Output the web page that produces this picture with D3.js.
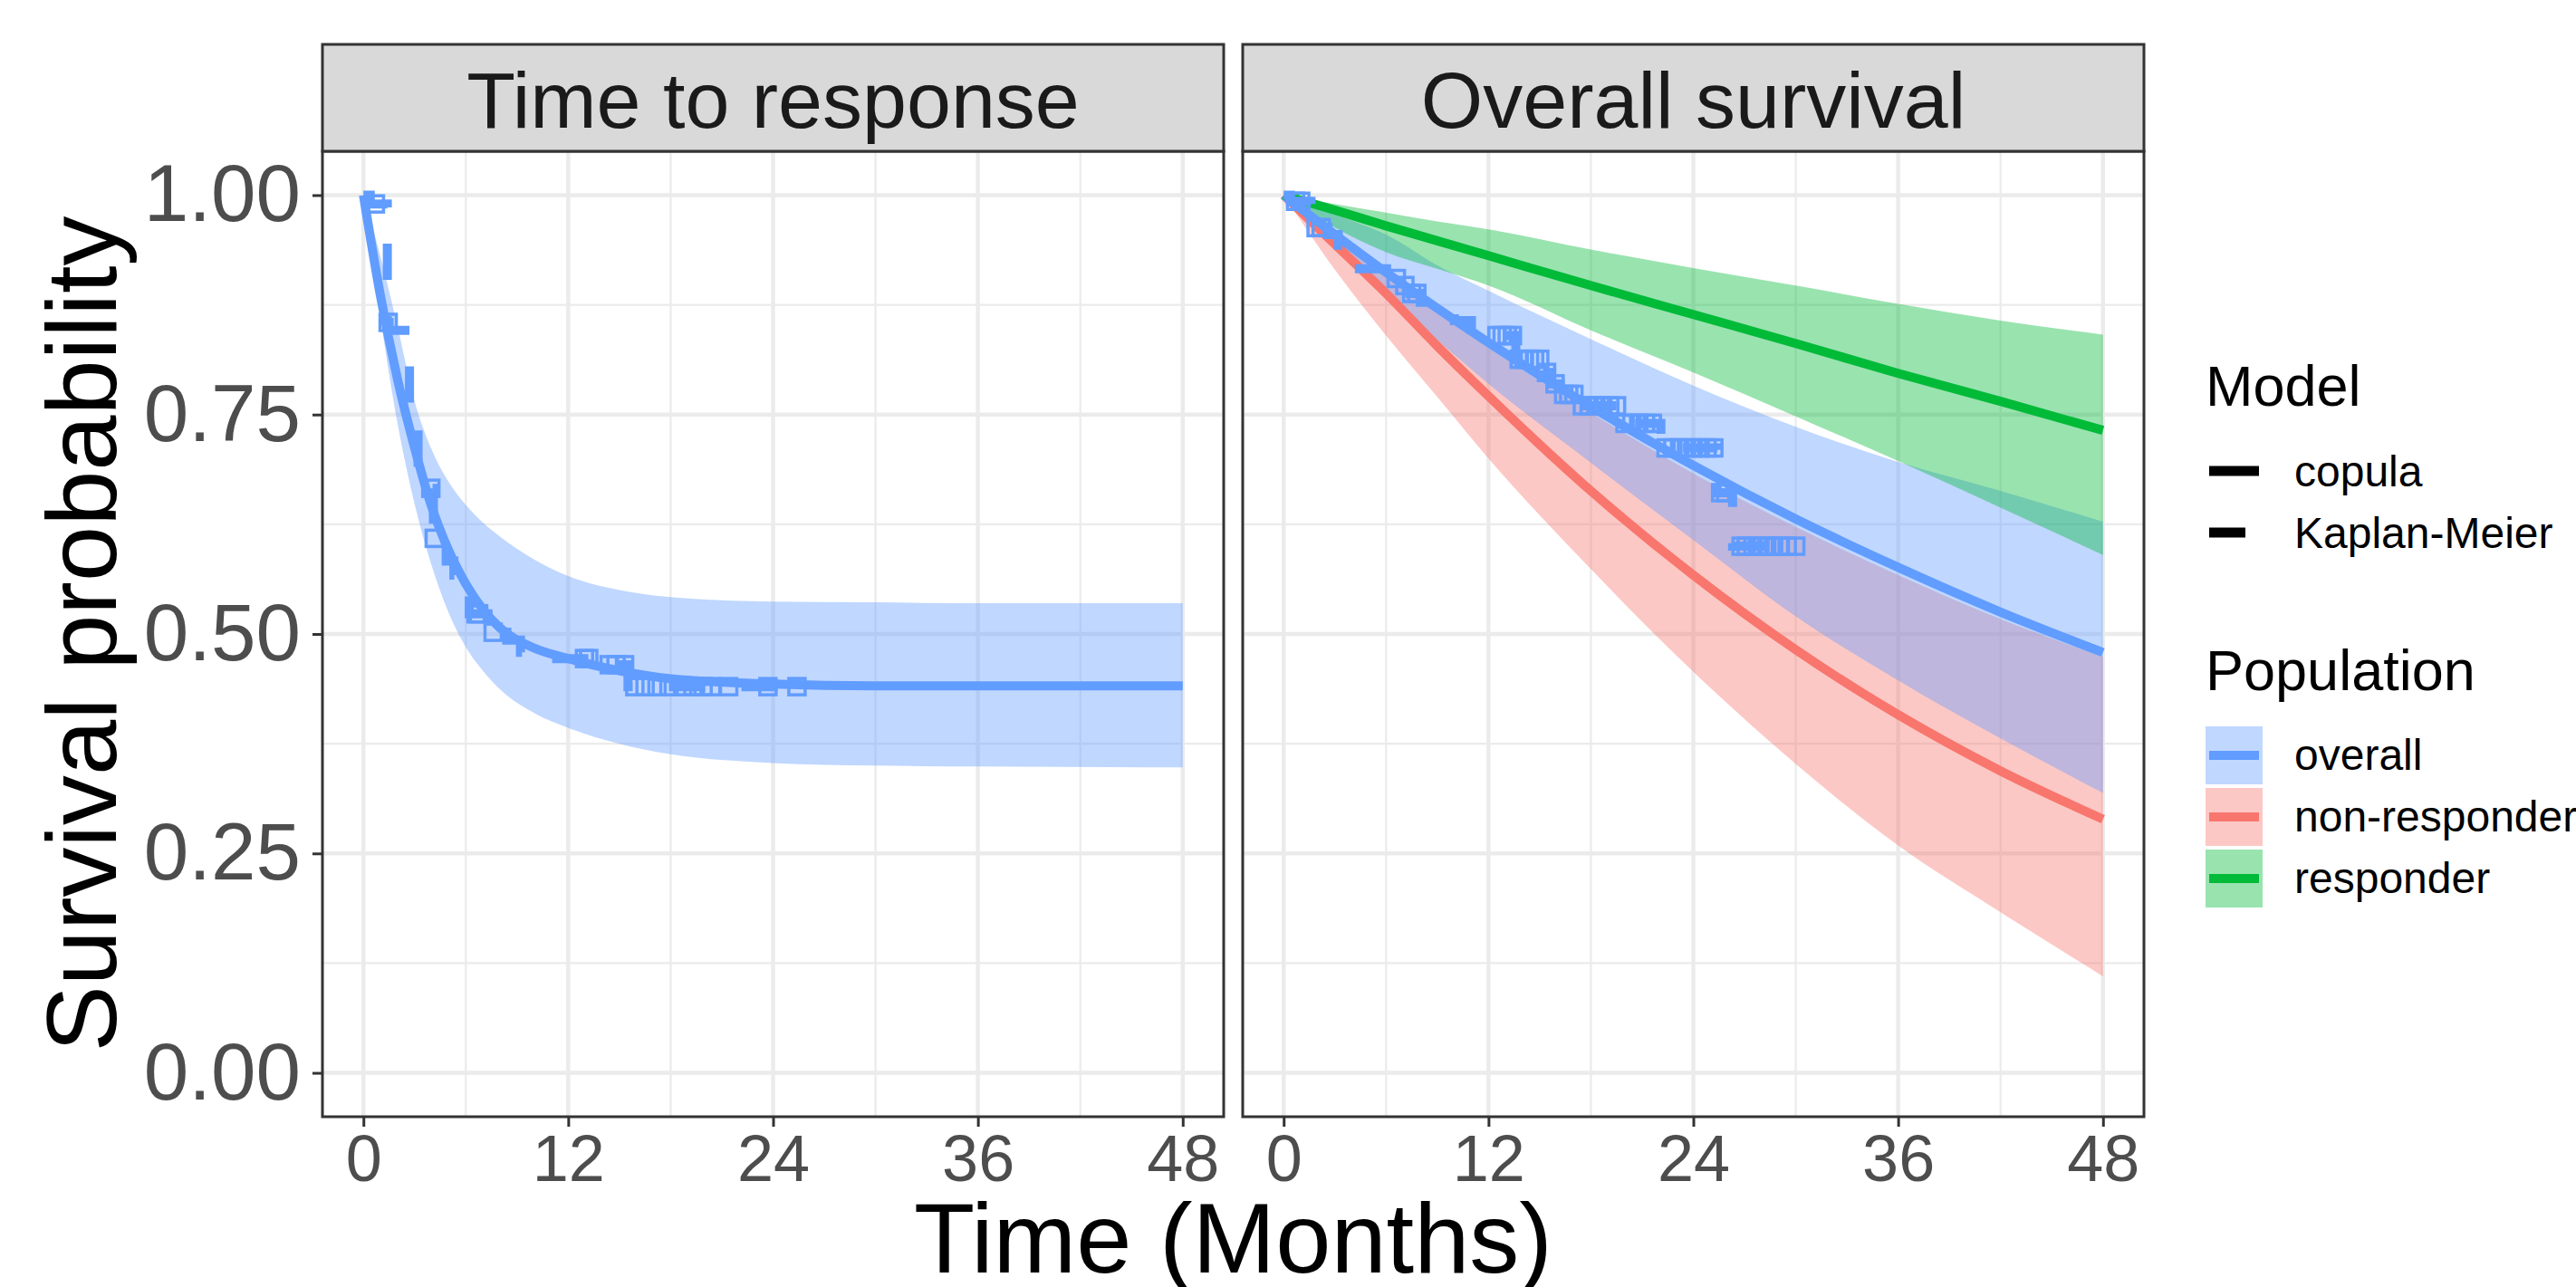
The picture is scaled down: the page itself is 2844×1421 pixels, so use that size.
<!DOCTYPE html>
<html>
<head>
<meta charset="utf-8">
<script src="https://cdn.jsdelivr.net/npm/d3@7"></script>
<style>
  html, body { margin: 0; padding: 0; background: #ffffff; }
  svg { display: block; }
  text { font-family: "Liberation Sans", Arial, Helvetica, sans-serif; }
</style>
</head>
<body>
<svg id="chart" width="2844" height="1421"></svg>
<script>
// ---------------- DATA ----------------
const panelTitles = ["Time to response", "Overall survival"];
const xTicks = [0, 12, 24, 36, 48];
const xMinor = [6, 18, 30, 42];
const yTicks = [0, 0.25, 0.5, 0.75, 1];
const yMinor = [0.125, 0.375, 0.625, 0.875];
const yTickLabels = ["0.00", "0.25", "0.50", "0.75", "1.00"];

const modelLabels = ["copula", "Kaplan-Meier"];
const populationLabels = ["overall", "non-responder", "responder"];
const populationColors = ["#619CFF", "#F8766D", "#00BA38"];

// Time to response: copula fit (overall) with ribbon
const ttrTimes = [0, 1, 2, 3, 4, 5, 6, 7, 8, 10, 12, 15, 18, 24, 30, 36, 48];
const ttrFit   = [1, 0.885, 0.79, 0.712, 0.645, 0.595, 0.557, 0.528, 0.507, 0.484, 0.472, 0.458, 0.449, 0.443, 0.441, 0.441, 0.441];
const ttrUpper = [1, 0.93, 0.85, 0.765, 0.71, 0.673, 0.647, 0.627, 0.611, 0.585, 0.566, 0.55, 0.542, 0.537, 0.536, 0.535, 0.535];
const ttrLower = [1, 0.86, 0.74, 0.648, 0.578, 0.524, 0.485, 0.458, 0.437, 0.41, 0.393, 0.375, 0.363, 0.353, 0.35, 0.349, 0.348];

// Time to response: Kaplan-Meier
const ttrKmTime = [0, 0.4, 1.4, 1.5, 2.7, 3.2, 3.6, 4.1, 4.85, 5.3, 6.2, 7.3, 8.4, 9.2, 11.0, 14.0, 15.5, 25.4];
const ttrKmSurv = [1, 0.99, 0.855, 0.846, 0.745, 0.68, 0.666, 0.609, 0.583, 0.567, 0.523, 0.502, 0.493, 0.479, 0.472, 0.465, 0.44, 0.44];
const ttrCensor = [0.7, 1.45, 3.95, 4.15, 6.6, 6.75, 7.6, 12.95, 13.2, 14.4, 14.8, 15.3, 15.9, 16.5, 17.2, 17.9, 18.7, 19.3, 19.9, 20.4, 21.4, 23.7, 25.4];

// Overall survival: copula fits per population
const osTimes = [0, 3, 6, 9, 12, 18, 24, 30, 36, 42, 48];
const osOverallFit   = [1, 0.955, 0.912, 0.871, 0.832, 0.759, 0.692, 0.631, 0.576, 0.525, 0.479];
const osOverallUpper = [1, 0.978, 0.955, 0.92, 0.891, 0.836, 0.783, 0.736, 0.696, 0.663, 0.628];
const osOverallLower = [1, 0.945, 0.888, 0.835, 0.785, 0.695, 0.607, 0.52, 0.447, 0.381, 0.319];
const osNonRespFit   = [1, 0.944, 0.888, 0.828, 0.771, 0.663, 0.567, 0.482, 0.408, 0.344, 0.289];
const osNonRespUpper = [1, 0.956, 0.908, 0.866, 0.826, 0.752, 0.683, 0.622, 0.567, 0.517, 0.474];
const osNonRespLower = [1, 0.915, 0.84, 0.77, 0.70, 0.574, 0.457, 0.352, 0.259, 0.183, 0.11];
const osRespFit      = [1, 0.983, 0.965, 0.948, 0.931, 0.897, 0.864, 0.831, 0.797, 0.765, 0.732];
const osRespUpper    = [1, 0.99, 0.98, 0.97, 0.961, 0.938, 0.917, 0.897, 0.876, 0.857, 0.841];
const osRespLower    = [1, 0.963, 0.935, 0.916, 0.897, 0.846, 0.798, 0.748, 0.697, 0.644, 0.59];

// Overall survival: Kaplan-Meier (overall population)
const osKmTime = [0, 0.4, 1.6, 2.6, 3.2, 4.1, 6.3, 6.9, 7.4, 8.0, 9.6, 10.0, 11.0, 12.1, 13.6, 15.2, 15.7, 16.2, 17.2, 19.7, 22.1, 25.4, 26.3, 30.0];
const osKmSurv = [1, 0.993, 0.963, 0.955, 0.943, 0.916, 0.905, 0.897, 0.888, 0.878, 0.866, 0.857, 0.847, 0.84, 0.813, 0.798, 0.785, 0.773, 0.76, 0.74, 0.712, 0.661, 0.60, 0.60];
const osCensor = [0.7, 1.0, 1.9, 2.2, 6.6, 7.1, 7.5, 7.8, 12.5, 12.8, 13.1, 13.4, 13.8, 14.1, 14.4, 14.7, 15.0, 15.4, 15.9, 16.4, 16.7, 17.0, 17.5, 17.9, 18.3, 18.7, 19.1, 19.5, 20.0, 20.4, 20.8, 21.2, 21.6, 22.4, 22.8, 23.2, 23.6, 24.0, 24.4, 24.8, 25.2, 25.6, 25.9, 26.8, 27.1, 27.5, 27.9, 28.3, 28.7, 29.1, 29.5, 30.0];

// ---------------- LAYOUT ----------------
const svg = d3.select("#chart");
svg.append("rect").attr("width", 2844).attr("height", 1421).attr("fill", "#ffffff");

const panelTop = 167, panelBottom = 1233, stripTop = 49;
const panels = [{ x0: 356, x1: 1351 }, { x0: 1372, x1: 2367 }];
const FONT = '"Liberation Sans", Arial, Helvetica, sans-serif';

const y = d3.scaleLinear().domain([-0.05, 1.05]).range([panelBottom, panelTop]);

function zip(ts, vs) { return ts.map((t, i) => ({ t, v: vs[i] })); }
function ribbon(ts, lo, hi) { return ts.map((t, i) => ({ t, lo: lo[i], hi: hi[i] })); }
function stepAt(times, surv, t) {
  const i = d3.bisectRight(times, t) - 1;
  return surv[Math.max(0, i)];
}

panels.forEach((p, pi) => {
  const x = d3.scaleLinear().domain([-2.4, 50.4]).range([p.x0, p.x1]);
  const g = svg.append("g");
  const clipId = "clip" + pi;
  svg.append("clipPath").attr("id", clipId).append("rect")
    .attr("x", p.x0).attr("y", panelTop).attr("width", p.x1 - p.x0).attr("height", panelBottom - panelTop);

  // grid
  const grid = g.append("g");
  xMinor.forEach(v => grid.append("line").attr("x1", x(v)).attr("x2", x(v)).attr("y1", panelTop).attr("y2", panelBottom)
    .attr("stroke", "#EBEBEB").attr("stroke-width", 2.2));
  yMinor.forEach(v => grid.append("line").attr("y1", y(v)).attr("y2", y(v)).attr("x1", p.x0).attr("x2", p.x1)
    .attr("stroke", "#EBEBEB").attr("stroke-width", 2.2));
  xTicks.forEach(v => grid.append("line").attr("x1", x(v)).attr("x2", x(v)).attr("y1", panelTop).attr("y2", panelBottom)
    .attr("stroke", "#EBEBEB").attr("stroke-width", 4.4));
  yTicks.forEach(v => grid.append("line").attr("y1", y(v)).attr("y2", y(v)).attr("x1", p.x0).attr("x2", p.x1)
    .attr("stroke", "#EBEBEB").attr("stroke-width", 4.4));

  const plot = g.append("g").attr("clip-path", `url(#${clipId})`);
  const area = d3.area().x(d => x(d.t)).y0(d => y(d.lo)).y1(d => y(d.hi)).curve(d3.curveMonotoneX);
  const line = d3.line().x(d => x(d.t)).y(d => y(d.v)).curve(d3.curveMonotoneX);
  const stepLine = d3.line().x(d => x(d.t)).y(d => y(d.v)).curve(d3.curveStepAfter);

  let censor, kmTimes, kmSurv;
  if (pi === 0) {
    plot.append("path").datum(ribbon(ttrTimes, ttrLower, ttrUpper)).attr("d", area)
      .attr("fill", populationColors[0]).attr("fill-opacity", 0.4);
    plot.append("path").datum(zip(ttrTimes, ttrFit)).attr("d", line)
      .attr("fill", "none").attr("stroke", populationColors[0]).attr("stroke-width", 10);
    kmTimes = ttrKmTime; kmSurv = ttrKmSurv; censor = ttrCensor;
  } else {
    const ribbons = [
      [osNonRespLower, osNonRespUpper, populationColors[1]],
      [osOverallLower, osOverallUpper, populationColors[0]],
      [osRespLower, osRespUpper, populationColors[2]]
    ];
    ribbons.forEach(r => plot.append("path").datum(ribbon(osTimes, r[0], r[1])).attr("d", area)
      .attr("fill", r[2]).attr("fill-opacity", 0.4));
    const fits = [[osNonRespFit, populationColors[1]], [osOverallFit, populationColors[0]], [osRespFit, populationColors[2]]];
    fits.forEach(f => plot.append("path").datum(zip(osTimes, f[0])).attr("d", line)
      .attr("fill", "none").attr("stroke", f[1]).attr("stroke-width", 10));
    kmTimes = osKmTime; kmSurv = osKmSurv; censor = osCensor;
  }
  // Kaplan-Meier step curve (dashed)
  plot.append("path").datum(zip(kmTimes, kmSurv)).attr("d", stepLine)
    .attr("fill", "none").attr("stroke", populationColors[0]).attr("stroke-width", 10)
    .attr("stroke-dasharray", "40,40");
  // censor marks (open squares)
  plot.selectAll("rect.cens").data(censor).enter().append("rect").attr("class", "cens")
    .attr("x", d => x(d) - 9).attr("y", d => y(stepAt(kmTimes, kmSurv, d)) - 9)
    .attr("width", 18).attr("height", 18)
    .attr("fill", "none").attr("stroke", populationColors[0]).attr("stroke-width", 3.5);

  // panel border
  g.append("rect").attr("x", p.x0).attr("y", panelTop).attr("width", p.x1 - p.x0).attr("height", panelBottom - panelTop)
    .attr("fill", "none").attr("stroke", "#333333").attr("stroke-width", 3);

  // strip
  g.append("rect").attr("x", p.x0).attr("y", stripTop).attr("width", p.x1 - p.x0).attr("height", panelTop - stripTop)
    .attr("fill", "#D9D9D9").attr("stroke", "#333333").attr("stroke-width", 3);
  g.append("text").attr("x", (p.x0 + p.x1) / 2).attr("y", 141).attr("text-anchor", "middle")
    .attr("font-size", 88).attr("fill", "#1A1A1A").text(panelTitles[pi]);

  // x axis
  const xAxis = d3.axisBottom(x).tickValues(xTicks).tickSize(11).tickPadding(9).tickFormat(d3.format("d"));
  const xa = g.append("g").attr("transform", `translate(0,${panelBottom})`).call(xAxis);
  xa.select(".domain").remove();
  xa.selectAll(".tick line").attr("stroke", "#333333").attr("stroke-width", 3);
  xa.selectAll(".tick text").attr("fill", "#4D4D4D").attr("font-size", 72).attr("font-family", FONT);

  // y axis (left panel only)
  if (pi === 0) {
    const yAxis = d3.axisLeft(y).tickValues(yTicks).tickSize(11).tickPadding(13)
      .tickFormat((d, i) => yTickLabels[i]);
    const ya = g.append("g").attr("transform", `translate(${p.x0},0)`).call(yAxis);
    ya.select(".domain").remove();
    ya.selectAll(".tick line").attr("stroke", "#333333").attr("stroke-width", 3);
    ya.selectAll(".tick text").attr("fill", "#4D4D4D").attr("font-size", 89).attr("font-family", FONT);
  }
});

// axis titles
svg.append("text").attr("x", (panels[0].x0 + panels[1].x1) / 2).attr("y", 1405).attr("text-anchor", "middle")
  .attr("font-size", 110).attr("fill", "#000000").text("Time (Months)");
svg.append("text").attr("transform", `translate(128,${(panelTop + panelBottom) / 2}) rotate(-90)`)
  .attr("text-anchor", "middle").attr("font-size", 110).attr("fill", "#000000").text("Survival probability");

// ---------------- LEGEND ----------------
const lg = svg.append("g");
lg.append("text").attr("x", 2435).attr("y", 448).attr("font-size", 63).attr("fill", "#000").text("Model");
const modelY = [520, 588];
const modelDash = [null, "40,40"];
modelLabels.forEach((lab, i) => {
  lg.append("line").attr("x1", 2439).attr("x2", 2494).attr("y1", modelY[i]).attr("y2", modelY[i])
    .attr("stroke", "#000").attr("stroke-width", 11).attr("stroke-dasharray", modelDash[i]);
  lg.append("text").attr("x", 2533).attr("y", modelY[i] + 17).attr("font-size", 48).attr("fill", "#000").text(lab);
});
lg.append("text").attr("x", 2435).attr("y", 762).attr("font-size", 63).attr("fill", "#000").text("Population");
const popTop = [802, 870, 938];
populationLabels.forEach((lab, i) => {
  lg.append("rect").attr("x", 2435).attr("y", popTop[i]).attr("width", 63).attr("height", 64)
    .attr("fill", populationColors[i]).attr("fill-opacity", 0.4);
  lg.append("line").attr("x1", 2439).attr("x2", 2494).attr("y1", popTop[i] + 32).attr("y2", popTop[i] + 32)
    .attr("stroke", populationColors[i]).attr("stroke-width", 10);
  lg.append("text").attr("x", 2533).attr("y", popTop[i] + 48).attr("font-size", 48).attr("fill", "#000").text(lab);
});
</script>
</body>
</html>
